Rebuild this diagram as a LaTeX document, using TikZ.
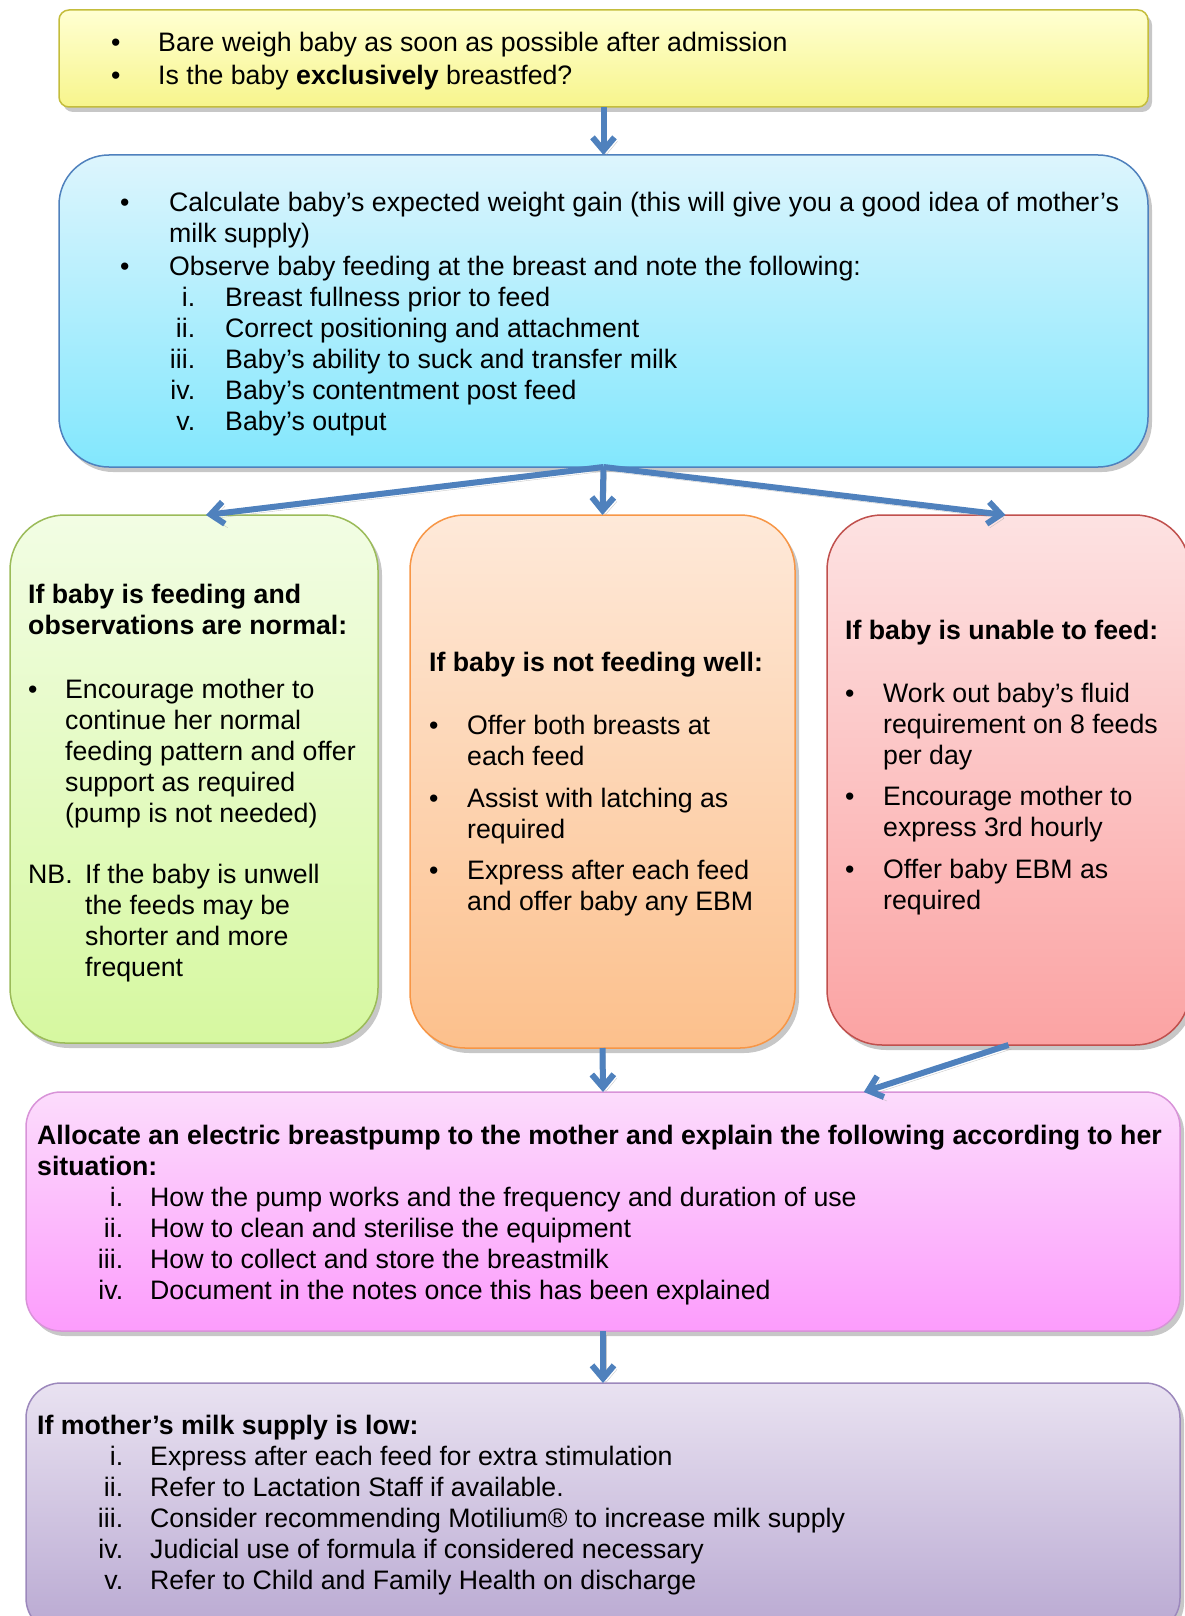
\documentclass[tikz,border=0pt]{standalone}
\usepackage{fontspec}
\setmainfont{Liberation Sans}
\usetikzlibrary{arrows.meta,calc,shadows}
\definecolor{flowblue}{HTML}{4F81BD}
\definecolor{yelTop}{HTML}{FFFFD2}
\definecolor{yelBot}{HTML}{F7F58C}
\definecolor{yelEdge}{HTML}{C4BD3C}
\definecolor{bluTop}{HTML}{DDF5FD}
\definecolor{bluBot}{HTML}{82E7FD}
\definecolor{grnTop}{HTML}{F2FDE4}
\definecolor{grnBot}{HTML}{D6F8A0}
\definecolor{grnEdge}{HTML}{9BBB59}
\definecolor{orgTop}{HTML}{FEE9D9}
\definecolor{orgBot}{HTML}{FCC08C}
\definecolor{orgEdge}{HTML}{F79646}
\definecolor{redTop}{HTML}{FDE2E2}
\definecolor{redBot}{HTML}{FBA3A3}
\definecolor{redEdge}{HTML}{C0504D}
\definecolor{pnkTop}{HTML}{FCDCFC}
\definecolor{pnkBot}{HTML}{FC9CFC}
\definecolor{pnkEdge}{HTML}{D893D8}
\definecolor{purTop}{HTML}{E9E2F1}
\definecolor{purBot}{HTML}{B9A9D2}
\definecolor{purEdge}{HTML}{9C88BC}

% bullet and roman labels, widths in px
\newcommand\bul[1]{\makebox[#1pt][l]{\textbullet}}
\newcommand\rom[3]{\makebox[#1pt][r]{#2}\hspace*{\dimexpr#3pt-#1pt\relax}}
\newcommand\ind[1]{\hspace*{#1pt}}

\tikzset{
  box/.style={draw, line width=1.5pt, inner sep=0pt, outer sep=0pt, anchor=north west,
    drop shadow={shadow xshift=4pt, shadow yshift=-5pt, fill=black!55, opacity=0.4}},
  txt/.style={anchor=north west, inner sep=0pt, align=left,
    font=\fontsize{26.7}{31}\selectfont},
  flow/.style={-{Straight Barb[length=13pt,width=22pt]}, draw=flowblue, line width=6pt,
    preaction={draw=black!35, opacity=0.6, transform canvas={shift={(3pt,-4pt)}}}},
}

\begin{document}
\begin{tikzpicture}[x=1pt, y=-1pt]
  \useasboundingbox (0,0) rectangle (1184,1616);

  % boxes
  \node[box, draw=yelEdge, top color=yelTop, bottom color=yelBot, rounded corners=10pt,
    minimum width=1089pt, minimum height=97pt] (weigh) at (59,10) {};
  \node[box, draw=flowblue, top color=bluTop, bottom color=bluBot, rounded corners=50pt,
    minimum width=1089pt, minimum height=312pt] (observe) at (59,155) {};
  \node[box, draw=grnEdge, top color=grnTop, bottom color=grnBot, rounded corners=55pt,
    minimum width=368pt, minimum height=528pt] (normal) at (10,515) {};
  \node[box, draw=orgEdge, top color=orgTop, bottom color=orgBot, rounded corners=55pt,
    minimum width=385pt, minimum height=533pt] (poor) at (410,515) {};
  \node[box, draw=redEdge, top color=redTop, bottom color=redBot, rounded corners=55pt,
    minimum width=363pt, minimum height=530pt] (unable) at (827,515) {};
  \node[box, draw=pnkEdge, top color=pnkTop, bottom color=pnkBot, rounded corners=35pt,
    minimum width=1154pt, minimum height=239pt] (pump) at (26,1092) {};
  \node[box, draw=purEdge, top color=purTop, bottom color=purBot, rounded corners=35pt,
    minimum width=1154pt, minimum height=250pt] (supply) at (26,1383) {};

  % texts
  \node[txt] (weigh-txt) at (111,29.3) {\strut\bul{47}Bare weigh baby as soon as possible after admission\\[2pt]
    \bul{47}Is the baby \textbf{exclusively} breastfed?};
  \node[txt] (observe-txt) at (120,189.3) {\strut\bul{49}Calculate baby's expected weight gain (this will give you a good idea of mother's\\
    \ind{49}milk supply)\\[2pt]
    \bul{49}Observe baby feeding at the breast and note the following:\\
    \rom{75}{i.}{105}Breast fullness prior to feed\\
    \rom{75}{ii.}{105}Correct positioning and attachment\\
    \rom{75}{iii.}{105}Baby's ability to suck and transfer milk\\
    \rom{75}{iv.}{105}Baby's contentment post feed\\
    \rom{75}{v.}{105}Baby's output};
  \node[txt] (normal-txt) at (28,581.3) {\strut\textbf{If baby is feeding and}\\
    \textbf{observations are normal:}\\[33pt]
    \bul{37}Encourage mother to\\
    \ind{37}continue her normal\\
    \ind{37}feeding pattern and offer\\
    \ind{37}support as required\\
    \ind{37}(pump is not needed)\\[30pt]
    \makebox[57pt][l]{NB.}If the baby is unwell\\
    \ind{57}the feeds may be\\
    \ind{57}shorter and more\\
    \ind{57}frequent};
  \node[txt] (poor-txt) at (429,649.3) {\strut\textbf{If baby is not feeding well:}\\[32pt]
    \bul{38}Offer both breasts at\\
    \ind{38}each feed\\[11pt]
    \bul{38}Assist with latching as\\
    \ind{38}required\\[10pt]
    \bul{38}Express after each feed\\
    \ind{38}and offer baby any EBM};
  \node[txt] (unable-txt) at (845,617.3) {\strut\textbf{If baby is unable to feed:}\\[32pt]
    \bul{38}Work out baby's fluid\\
    \ind{38}requirement on 8 feeds\\
    \ind{38}per day\\[10pt]
    \bul{38}Encourage mother to\\
    \ind{38}express 3rd hourly\\[11pt]
    \bul{38}Offer baby EBM as\\
    \ind{38}required};
  \node[txt] (pump-txt) at (37,1122.3) {\strut\textbf{Allocate an electric breastpump to the mother and explain the following according to her}\\
    \textbf{situation:}\\
    \rom{86}{i.}{113}How the pump works and the frequency and duration of use\\
    \rom{86}{ii.}{113}How to clean and sterilise the equipment\\
    \rom{86}{iii.}{113}How to collect and store the breastmilk\\
    \rom{86}{iv.}{113}Document in the notes once this has been explained};
  \node[txt] (supply-txt) at (37,1412.3) {\strut\textbf{If mother's milk supply is low:}\\
    \rom{86}{i.}{113}Express after each feed for extra stimulation\\
    \rom{86}{ii.}{113}Refer to Lactation Staff if available.\\
    \rom{86}{iii.}{113}Consider recommending Motilium® to increase milk supply\\
    \rom{86}{iv.}{113}Judicial use of formula if considered necessary\\
    \rom{86}{v.}{113}Refer to Child and Family Health on discharge};

  % connectors
  \draw[flow] (weigh.south) -- (observe.north);
  \draw[flow] (observe.south) -- ($(normal.north)+(12,0)$);
  \draw[flow] (observe.south) -- (poor.north);
  \draw[flow] (observe.south) -- ($(unable.north)+(-3,0)$);
  \draw[flow] (poor.south) -- (pump.north);
  \draw[flow] (unable.south) -- ($(pump.north west)!0.726!(pump.north east)$);
  \draw[flow] (pump.south) -- (supply.north);
\end{tikzpicture}
\end{document}
